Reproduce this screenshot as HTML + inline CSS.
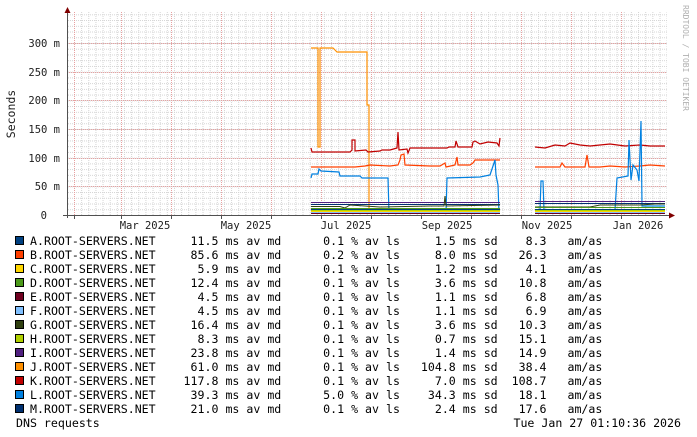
<!DOCTYPE html>
<html><head><meta charset="utf-8"><style>
html,body{margin:0;padding:0;background:#fff;}
svg{display:block;}
text{font-family:"DejaVu Sans Mono","Liberation Mono",monospace;white-space:pre;}
</style></head><body>
<svg width="697" height="437" viewBox="0 0 697 437" xmlns="http://www.w3.org/2000/svg">
<rect width="697" height="437" fill="#fff"/>
<defs>
<pattern id="vminor" x="74" y="0" width="7.14" height="437" patternUnits="userSpaceOnUse">
<line x1="0.5" y1="0" x2="0.5" y2="437" stroke="#d4d4d4" stroke-width="1" stroke-dasharray="1,1"/>
</pattern>
<pattern id="hminor" x="0" y="215" width="697" height="5.733" patternUnits="userSpaceOnUse">
<line x1="0" y1="0.5" x2="697" y2="0.5" stroke="#d4d4d4" stroke-width="1" stroke-dasharray="1,1"/>
</pattern>
</defs>
<rect x="67" y="12" width="600" height="203" fill="url(#vminor)"/>
<rect x="67" y="12" width="600" height="203" fill="url(#hminor)"/>
<g stroke="#e8a0a0" stroke-width="1" stroke-dasharray="1,1">
<line x1="74.5" y1="12" x2="74.5" y2="215"/><line x1="121.5" y1="12" x2="121.5" y2="215"/>
<line x1="171.5" y1="12" x2="171.5" y2="215"/><line x1="221.5" y1="12" x2="221.5" y2="215"/>
<line x1="271.5" y1="12" x2="271.5" y2="215"/><line x1="321.5" y1="12" x2="321.5" y2="215"/>
<line x1="371.5" y1="12" x2="371.5" y2="215"/><line x1="421.5" y1="12" x2="421.5" y2="215"/>
<line x1="471.5" y1="12" x2="471.5" y2="215"/><line x1="521.5" y1="12" x2="521.5" y2="215"/>
<line x1="571.5" y1="12" x2="571.5" y2="215"/><line x1="621.5" y1="12" x2="621.5" y2="215"/>
<line x1="67" y1="43.5" x2="667" y2="43.5"/><line x1="67" y1="72.5" x2="667" y2="72.5"/>
<line x1="67" y1="100.5" x2="667" y2="100.5"/><line x1="67" y1="129.5" x2="667" y2="129.5"/>
<line x1="67" y1="158.5" x2="667" y2="158.5"/><line x1="67" y1="186.5" x2="667" y2="186.5"/>
</g>
<g fill="none" stroke-width="1.2">
<polyline stroke="#ff9000" points="311,48 318,48 318,147 320,147 320,48 333,48 335,50 337,52 367,52 367,105 369,105 369,212 500,212"/>
<polyline stroke="#ff9000" points="535,211 665,210"/>
<polyline stroke="#c00000" points="311,148 312,152 350,152 352,150 352,140 355,140 355,151 366,150 368,152 380,151 382,150 390,150 397,148 398,132 399,150 407,149 408,153 410,148 447,148 449,147 455,147 456,141 458,147 472,147 473,142 475,141 480,144 488,142 497,143 499,146 500,138"/>
<polyline stroke="#c00000" points="535,147 545,148 555,145 565,146 570,143 580,145 590,146 600,145 610,144 625,146 640,145 650,146 665,146"/>
<polyline stroke="#ff4000" points="311,167 355,167 365,166 370,165 390,166 398,165 400,160 401,155 404,154 405,165 430,166 440,166 445,163 446,167 455,165 457,157 458,165 470,165 473,163 475,160 500,160"/>
<polyline stroke="#ff4000" points="535,167 560,167 562,163 565,167 585,167 587,155 589,167 600,167 610,166 625,167 640,166 650,165 665,166"/>
<polyline stroke="#0080e0" points="311,178 312,174 318,174 319,169 321,171 339,172 340,176 360,176 362,178 388,178 389,213 446,213 447,178 480,177 490,175 495,160 496,175 498,185 499,213"/>
<polyline stroke="#0080e0" points="535,210 540,210 541,181 543,181 544,210 615,210 617,178 628,176 629,140 631,180 633,165 637,170 639,181 641,121 642,206 665,206"/>
</g>
<g fill="none" stroke-width="1">
<polyline stroke="#502080" points="311,202.5 500,202.5"/><polyline stroke="#502080" points="535,201.5 665,201.5"/>
<polyline stroke="#003070" points="311,204.5 500,204.5"/><polyline stroke="#003070" points="535,203.5 665,203.5"/>
<polyline stroke="#304010" points="311,206.5 340,206.5 345,208 350,205 380,207 430,206 444,206 445,196 446,206 500,205"/>
<polyline stroke="#304010" points="535,207 590,207 600,205 640,205 655,204 665,204"/>
<polyline stroke="#4c9a1a" points="311,208.5 500,208.5"/><polyline stroke="#4c9a1a" points="535,207.5 665,207.5"/>
<polyline stroke="#004080" points="311,209.5 500,209.5"/><polyline stroke="#004080" points="535,209.5 665,209.5"/>
<polyline stroke="#b0d000" points="311,210.5 500,210.5"/><polyline stroke="#b0d000" points="535,210.5 665,210.5"/>
<polyline stroke="#ffd700" points="311,211.5 500,211.5"/><polyline stroke="#ffd700" points="535,211.5 665,211.5"/>
<polyline stroke="#80c0ff" points="311,212.5 500,212.5"/><polyline stroke="#80c0ff" points="535,212.5 665,212.5"/>
<polyline stroke="#700020" points="311,213.5 500,213.5"/><polyline stroke="#700020" points="535,213.5 665,213.5"/>
</g>
<line x1="67.5" y1="12" x2="67.5" y2="218" stroke="#505050"/>
<line x1="63" y1="215.5" x2="670" y2="215.5" stroke="#505050"/>
<polygon points="64.5,13 70.5,13 67.5,7" fill="#800000"/>
<polygon points="669,212.5 669,218.5 675,215.5" fill="#800000"/>
<g stroke="#505050">
<line x1="74.5" y1="215" x2="74.5" y2="219"/><line x1="121.5" y1="215" x2="121.5" y2="219"/>
<line x1="171.5" y1="215" x2="171.5" y2="219"/><line x1="221.5" y1="215" x2="221.5" y2="219"/>
<line x1="271.5" y1="215" x2="271.5" y2="219"/><line x1="321.5" y1="215" x2="321.5" y2="219"/>
<line x1="371.5" y1="215" x2="371.5" y2="219"/><line x1="421.5" y1="215" x2="421.5" y2="219"/>
<line x1="471.5" y1="215" x2="471.5" y2="219"/><line x1="521.5" y1="215" x2="521.5" y2="219"/>
<line x1="571.5" y1="215" x2="571.5" y2="219"/><line x1="621.5" y1="215" x2="621.5" y2="219"/>
</g>
<g font-size="10.5" fill="#202020" text-anchor="end">
<text x="60" y="47">300 m</text><text x="60" y="76">250 m</text><text x="60" y="104">200 m</text>
<text x="60" y="133">150 m</text><text x="60" y="162">100 m</text><text x="60" y="190">50 m</text>
<text x="47" y="219">0</text>
</g>
<g font-size="10.5" fill="#202020" text-anchor="middle">
<text x="145" y="229">Mar 2025</text><text x="246" y="229">May 2025</text><text x="346" y="229">Jul 2025</text>
<text x="447" y="229">Sep 2025</text><text x="547" y="229">Nov 2025</text><text x="638" y="229">Jan 2026</text>
</g>
<text transform="translate(15,114) rotate(-90)" font-size="11.5" fill="#202020" text-anchor="middle">Seconds</text>
<text transform="translate(683,5) rotate(90)" font-size="8" fill="#b0b0b0">RRDTOOL / TOBI OETIKER</text>
<g stroke="#000" stroke-width="1">
<rect x="15.5" y="236.5" width="8" height="8" fill="#004080"/>
<rect x="15.5" y="250.5" width="8" height="8" fill="#ff4000"/>
<rect x="15.5" y="264.5" width="8" height="8" fill="#ffd700"/>
<rect x="15.5" y="278.5" width="8" height="8" fill="#4c9a1a"/>
<rect x="15.5" y="292.5" width="8" height="8" fill="#700020"/>
<rect x="15.5" y="306.5" width="8" height="8" fill="#80c0ff"/>
<rect x="15.5" y="320.5" width="8" height="8" fill="#304010"/>
<rect x="15.5" y="334.5" width="8" height="8" fill="#b0d000"/>
<rect x="15.5" y="348.5" width="8" height="8" fill="#502080"/>
<rect x="15.5" y="362.5" width="8" height="8" fill="#ff9000"/>
<rect x="15.5" y="376.5" width="8" height="8" fill="#c00000"/>
<rect x="15.5" y="390.5" width="8" height="8" fill="#0080e0"/>
<rect x="15.5" y="404.5" width="8" height="8" fill="#003070"/>
</g>
<g font-size="11.6" fill="#000">
<text x="30" y="245">A.ROOT-SERVERS.NET     11.5 ms av md      0.1 % av ls     1.5 ms sd    8.3   am/as</text>
<text x="30" y="259">B.ROOT-SERVERS.NET     85.6 ms av md      0.2 % av ls     8.0 ms sd   26.3   am/as</text>
<text x="30" y="273">C.ROOT-SERVERS.NET      5.9 ms av md      0.1 % av ls     1.2 ms sd    4.1   am/as</text>
<text x="30" y="287">D.ROOT-SERVERS.NET     12.4 ms av md      0.1 % av ls     3.6 ms sd   10.8   am/as</text>
<text x="30" y="301">E.ROOT-SERVERS.NET      4.5 ms av md      0.1 % av ls     1.1 ms sd    6.8   am/as</text>
<text x="30" y="315">F.ROOT-SERVERS.NET      4.5 ms av md      0.1 % av ls     1.1 ms sd    6.9   am/as</text>
<text x="30" y="329">G.ROOT-SERVERS.NET     16.4 ms av md      0.1 % av ls     3.6 ms sd   10.3   am/as</text>
<text x="30" y="343">H.ROOT-SERVERS.NET      8.3 ms av md      0.1 % av ls     0.7 ms sd   15.1   am/as</text>
<text x="30" y="357">I.ROOT-SERVERS.NET     23.8 ms av md      0.1 % av ls     1.4 ms sd   14.9   am/as</text>
<text x="30" y="371">J.ROOT-SERVERS.NET     61.0 ms av md      0.1 % av ls   104.8 ms sd   38.4   am/as</text>
<text x="30" y="385">K.ROOT-SERVERS.NET    117.8 ms av md      0.1 % av ls     7.0 ms sd  108.7   am/as</text>
<text x="30" y="399">L.ROOT-SERVERS.NET     39.3 ms av md      5.0 % av ls    34.3 ms sd   18.1   am/as</text>
<text x="30" y="413">M.ROOT-SERVERS.NET     21.0 ms av md      0.1 % av ls     2.4 ms sd   17.6   am/as</text>
<text x="16" y="427">DNS requests</text>
<text x="681" y="427" text-anchor="end">Tue Jan 27 01:10:36 2026</text>
</g>
</svg>
</body></html>
